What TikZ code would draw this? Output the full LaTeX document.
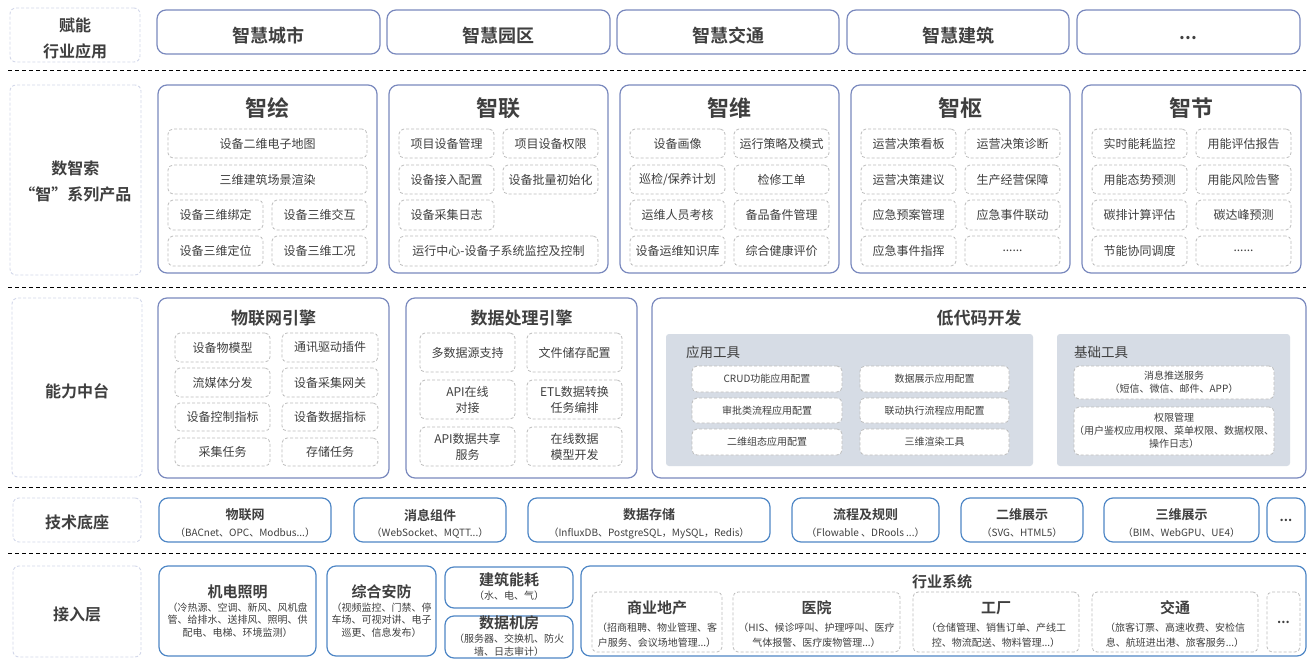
\documentclass[tikz,border=0pt]{standalone}
\usepackage{fontspec}
\setmainfont{Noto Sans CJK SC}[BoldFont={Noto Sans CJK SC Bold}]
\definecolor{txt}{HTML}{3F3F3F}
\definecolor{topc}{HTML}{7A89BE}
\definecolor{bluc}{HTML}{4F87C6}
\definecolor{labc}{HTML}{D3D8EA}
\definecolor{innc}{HTML}{BDBDBD}
\definecolor{panelc}{HTML}{D6DCE5}
\newcommand{\bxx}[7]{\node[#2, minimum width={(#5)-(#3)}, minimum height={(#6)-(#4)}] (#1) at ({((#3)+(#5))/2},{((#4)+(#6))/2}) {#7};}
\newcommand{\twoc}[6]{\bxx{#1a}{inn}{#2+10}{#3}{#2+105}{#4}{#5}\bxx{#1b}{inn}{#2+114}{#3}{#2+209}{#4}{#6}}
\newcommand{\dn}[2][3.5pt]{\raisebox{-#1}[\height][\depth]{#2}}
\tikzset{
 every node/.style={inner sep=0pt, outer sep=0pt, text=txt},
 lab/.style={draw=labc, dash pattern=on 3pt off 2pt, line width=0.9pt, rounded corners=6pt, align=center, font=\fontsize{16}{26}\selectfont\bfseries},
 prod/.style={draw=topc, line width=1.2pt, rounded corners=9pt},
 ind/.style={prod, font=\fontsize{18}{20}\selectfont\bfseries},
 inn/.style={draw=innc, dash pattern=on 3pt off 2pt, line width=0.8pt, rounded corners=5pt, align=center, font=\fontsize{12}{16}\selectfont},
 innw/.style={inn, fill=white, font=\fontsize{10}{13}\selectfont},
 blu/.style={draw=bluc, line width=1.2pt, rounded corners=9pt},
 panel/.style={fill=panelc, rounded corners=3pt},
 sep/.style={draw=black, dash pattern=on 4pt off 3pt, line width=0.9pt},
 big/.style={font=\fontsize{22}{24}\selectfont\bfseries},
 mid/.style={font=\fontsize{17}{19}\selectfont\bfseries},
 ptl/.style={font=\fontsize{13.5}{15}\selectfont},
 t13/.style={font=\fontsize{13}{15}\selectfont\bfseries},
 t15/.style={font=\fontsize{15}{17}\selectfont\bfseries},
 sub/.style={font=\fontsize{10}{12.5}\selectfont, align=center},
 subb/.style={font=\fontsize{10}{15.5}\selectfont, align=center},
}
\begin{document}
\begin{tikzpicture}[x=1pt,y=-1pt]
\useasboundingbox[fill=white] (0,0) rectangle (1314,661);
% separators
\coordinate (s1a) at (8,70); \coordinate (s1b) at (1306,70);
\coordinate (s2a) at (8,287); \coordinate (s2b) at (1306,287);
\coordinate (s3a) at (8,487); \coordinate (s3b) at (1306,487);
\coordinate (s4a) at (8,553); \coordinate (s4b) at (1306,553);
\draw[sep] (s1a) -- (s1b);
\draw[sep] (s2a) -- (s2b);
\draw[sep] (s3a) -- (s3b);
\draw[sep] (s4a) -- (s4b);
% Row 1
\bxx{lab1}{lab}{10}{8}{140}{62}{\dn{赋能}\\\dn{行业应用}}
\bxx{i1}{ind}{157}{10}{380}{54}{\dn{智慧城市}}
\bxx{i2}{ind}{387}{10}{610}{54}{\dn{智慧园区}}
\bxx{i3}{ind}{617}{10}{839}{54}{\dn{智慧交通}}
\bxx{i4}{ind}{847}{10}{1069}{54}{\dn{智慧建筑}}
\bxx{i5}{ind}{1077}{10}{1300}{54}{\dn[6pt]{...}}
% Row 2
\bxx{lab2}{lab}{10}{85}{141}{275}{\dn[1.5pt]{数智索}\\\dn[1.5pt]{“智”系列产品}}
\bxx{p1}{prod}{158}{85}{377}{273}{}
\node[big] (p1t) at (267.5,108) {智绘};
\bxx{p1r1}{inn}{168}{129}{367}{158}{设备二维电子地图}
\bxx{p1r2}{inn}{168}{165}{367}{194}{三维建筑场景渲染}
\twoc{p1r3}{158}{200}{230}{设备三维绑定}{设备三维交互}
\twoc{p1r4}{158}{236}{266}{设备三维定位}{设备三维工况}
\bxx{p2}{prod}{389}{85}{608}{273}{}
\node[big] (p2t) at (498.5,108) {智联};
\twoc{p2r1}{389}{129}{158}{项目设备管理}{项目设备权限}
\twoc{p2r2}{389}{165}{194}{设备接入配置}{设备批量初始化}
\bxx{p2r3}{inn}{399}{200}{494}{230}{设备采集日志}
\bxx{p2r4}{inn}{399}{236}{598}{266}{运行中心-设备子系统监控及控制}
\bxx{p3}{prod}{620}{85}{839}{273}{}
\node[big] (p3t) at (729.5,108) {智维};
\twoc{p3r1}{620}{129}{158}{设备画像}{运行策略及模式}
\twoc{p3r2}{620}{165}{194}{巡检/保养计划}{检修工单}
\twoc{p3r3}{620}{200}{230}{运维人员考核}{备品备件管理}
\twoc{p3r4}{620}{236}{266}{设备运维知识库}{综合健康评价}
\bxx{p4}{prod}{851}{85}{1070}{273}{}
\node[big] (p4t) at (960.5,108) {智枢};
\twoc{p4r1}{851}{129}{158}{运营决策看板}{运营决策诊断}
\twoc{p4r2}{851}{165}{194}{运营决策建议}{生产经营保障}
\twoc{p4r3}{851}{200}{230}{应急预案管理}{应急事件联动}
\twoc{p4r4}{851}{236}{266}{应急事件指挥}{......}
\bxx{p5}{prod}{1082}{85}{1301}{273}{}
\node[big] (p5t) at (1191.5,108) {智节};
\twoc{p5r1}{1082}{129}{158}{实时能耗监控}{用能评估报告}
\twoc{p5r2}{1082}{165}{194}{用能态势预测}{用能风险告警}
\twoc{p5r3}{1082}{200}{230}{碳排计算评估}{碳达峰预测}
\twoc{p5r4}{1082}{236}{266}{节能协同调度}{......}
% Row 3
\bxx{lab3}{lab}{12}{298}{142}{477}{\dn{能力中台}}
\bxx{e1}{prod}{158}{298}{389}{478}{}
\node[mid] (e1t) at (273.5,318) {物联网引擎};
\bxx{e1a1}{inn}{175}{333}{270}{362}{设备物模型}
\bxx{e1b1}{inn}{282}{333}{378}{362}{通讯驱动插件}
\bxx{e1a2}{inn}{175}{368}{270}{397}{流媒体分发}
\bxx{e1b2}{inn}{282}{368}{378}{397}{设备采集网关}
\bxx{e1a3}{inn}{175}{403}{270}{431}{设备控制指标}
\bxx{e1b3}{inn}{282}{403}{378}{431}{设备数据指标}
\bxx{e1a4}{inn}{175}{438}{270}{466}{采集任务}
\bxx{e1b4}{inn}{282}{438}{378}{466}{存储任务}
\bxx{e2}{prod}{406}{298}{637}{478}{}
\node[mid] (e2t) at (521.5,318) {数据处理引擎};
\bxx{e2a1}{inn}{420}{333}{515}{372}{多数据源支持}
\bxx{e2b1}{inn}{527}{333}{622}{372}{文件储存配置}
\bxx{e2a2}{inn}{420}{380}{515}{419}{API在线\\对接}
\bxx{e2b2}{inn}{527}{380}{622}{419}{ETL数据转换\\任务编排}
\bxx{e2a3}{inn}{420}{427}{515}{466}{API数据共享\\服务}
\bxx{e2b3}{inn}{527}{427}{622}{466}{在线数据\\模型开发}
\bxx{e3}{prod}{652}{298}{1306}{478}{}
\node[mid] (e3t) at (979,318) {低代码开发};
\bxx{pa}{panel}{666}{334}{1033}{466}{}
\node[ptl, anchor=west] (pat) at (686,352) {应用工具};
\bxx{pa1}{innw}{692}{366}{842}{392}{CRUD功能应用配置}
\bxx{pa2}{innw}{860}{366}{1009}{392}{数据展示应用配置}
\bxx{pa3}{innw}{692}{398}{842}{423}{审批类流程应用配置}
\bxx{pa4}{innw}{860}{398}{1009}{423}{联动执行流程应用配置}
\bxx{pa5}{innw}{692}{429}{842}{455}{二维组态应用配置}
\bxx{pa6}{innw}{860}{429}{1009}{455}{三维渲染工具}
\bxx{pb}{panel}{1057}{334}{1290}{466}{}
\node[ptl, anchor=west] (pbt) at (1074,352) {基础工具};
\bxx{pb1}{innw}{1074}{366}{1274}{399}{消息推送服务\\（短信、微信、邮件、APP）}
\bxx{pb2}{innw}{1074}{407}{1274}{455}{权限管理\\（用户鉴权应用权限、菜单权限、数据权限、\\操作日志）}
% Row 4
\bxx{lab4}{lab}{13}{498}{141}{542}{\dn[2.5pt]{技术底座}}
\bxx{b1}{blu}{159}{498}{331}{542}{}
\node[t13] (b1t) at (245,515) {物联网};
\node[sub] (b1s) at (245,533) {（BACnet、OPC、Modbus...）};
\bxx{b2}{blu}{354}{498}{506}{542}{}
\node[t13] (b2t) at (430,515) {消息组件};
\node[sub] (b2s) at (430,533) {（WebSocket、MQTT...）};
\bxx{b3}{blu}{528}{498}{770}{542}{}
\node[t13] (b3t) at (649,515) {数据存储};
\node[sub] (b3s) at (649,533) {（InfluxDB、PostgreSQL，MySQL，Redis）};
\bxx{b4}{blu}{792}{498}{939}{542}{}
\node[t13] (b4t) at (865.5,515) {流程及规则};
\node[sub] (b4s) at (865.5,533) {（Flowable 、DRools ...）};
\bxx{b5}{blu}{961}{498}{1083}{542}{}
\node[t13] (b5t) at (1022,515) {二维展示};
\node[sub] (b5s) at (1022,533) {（SVG、HTML5）};
\bxx{b6}{blu}{1104}{498}{1259}{542}{}
\node[t13] (b6t) at (1181.5,515) {三维展示};
\node[sub] (b6s) at (1181.5,533) {（BIM、WebGPU、UE4）};
\bxx{b7}{blu, font=\fontsize{13}{15}\selectfont\bfseries}{1267}{498}{1305}{542}{...}
% Row 5
\bxx{lab5}{lab}{13}{566}{141}{657}{\dn{接入层}}
\bxx{c1}{blu}{159}{566}{316}{656}{}
\node[t15] (c1t) at (237.5,592) {机电照明};
\node[sub] (c1s) at (237.5,620) {（冷热源、空调、新风、风机盘\\管、给排水、送排风、照明、供\\配电、电梯、环境监测）};
\bxx{c2}{blu}{327}{566}{436}{656}{}
\node[t15] (c2t) at (381.5,592) {综合安防};
\node[sub] (c2s) at (381.5,620) {（视频监控、门禁、停\\车场、可视对讲、电子\\巡更、信息发布）};
\bxx{c3}{blu}{445}{567}{573}{608}{}
\node[t15] (c3t) at (509,580) {建筑能耗};
\node[sub] (c3s) at (509,596) {（水、电、气）};
\bxx{c4}{blu}{445}{616}{573}{658}{}
\node[t15] (c4t) at (509,623) {数据机房};
\node[sub] (c4s) at (509,645) {（服务器、交换机、防火\\墙、日志审计）};
\bxx{c5}{blu}{581}{566}{1306}{656}{}
\node[t15] (c5t) at (942,582) {行业系统};
\bxx{d1}{inn}{592}{592}{722}{652}{}
\node[t15] (d1t) at (657,608) {商业地产};
\node[subb] (d1s) at (657,635) {（招商租聘、物业管理、客\\户服务、会议场地管理...）};
\bxx{d2}{inn}{733}{592}{900}{652}{}
\node[t15] (d2t) at (816.5,608) {医院};
\node[subb] (d2s) at (816.5,635) {（HIS、候诊呼叫、护理呼叫、医疗\\气体报警、医疗废物管理...）};
\bxx{d3}{inn}{913}{592}{1079}{652}{}
\node[t15] (d3t) at (996,608) {工厂};
\node[subb] (d3s) at (996,635) {（仓储管理、销售订单、产线工\\控、物流配送、物料管理...）};
\bxx{d4}{inn}{1092}{592}{1258}{652}{}
\node[t15] (d4t) at (1175,608) {交通};
\node[subb] (d4s) at (1175,635) {（旅客订票、高速收费、安检信\\息、航班进出港、旅客服务...）};
\bxx{d5}{inn, font=\fontsize{13}{15}\selectfont\bfseries}{1267}{592}{1300}{652}{...}
\end{tikzpicture}
\end{document}
